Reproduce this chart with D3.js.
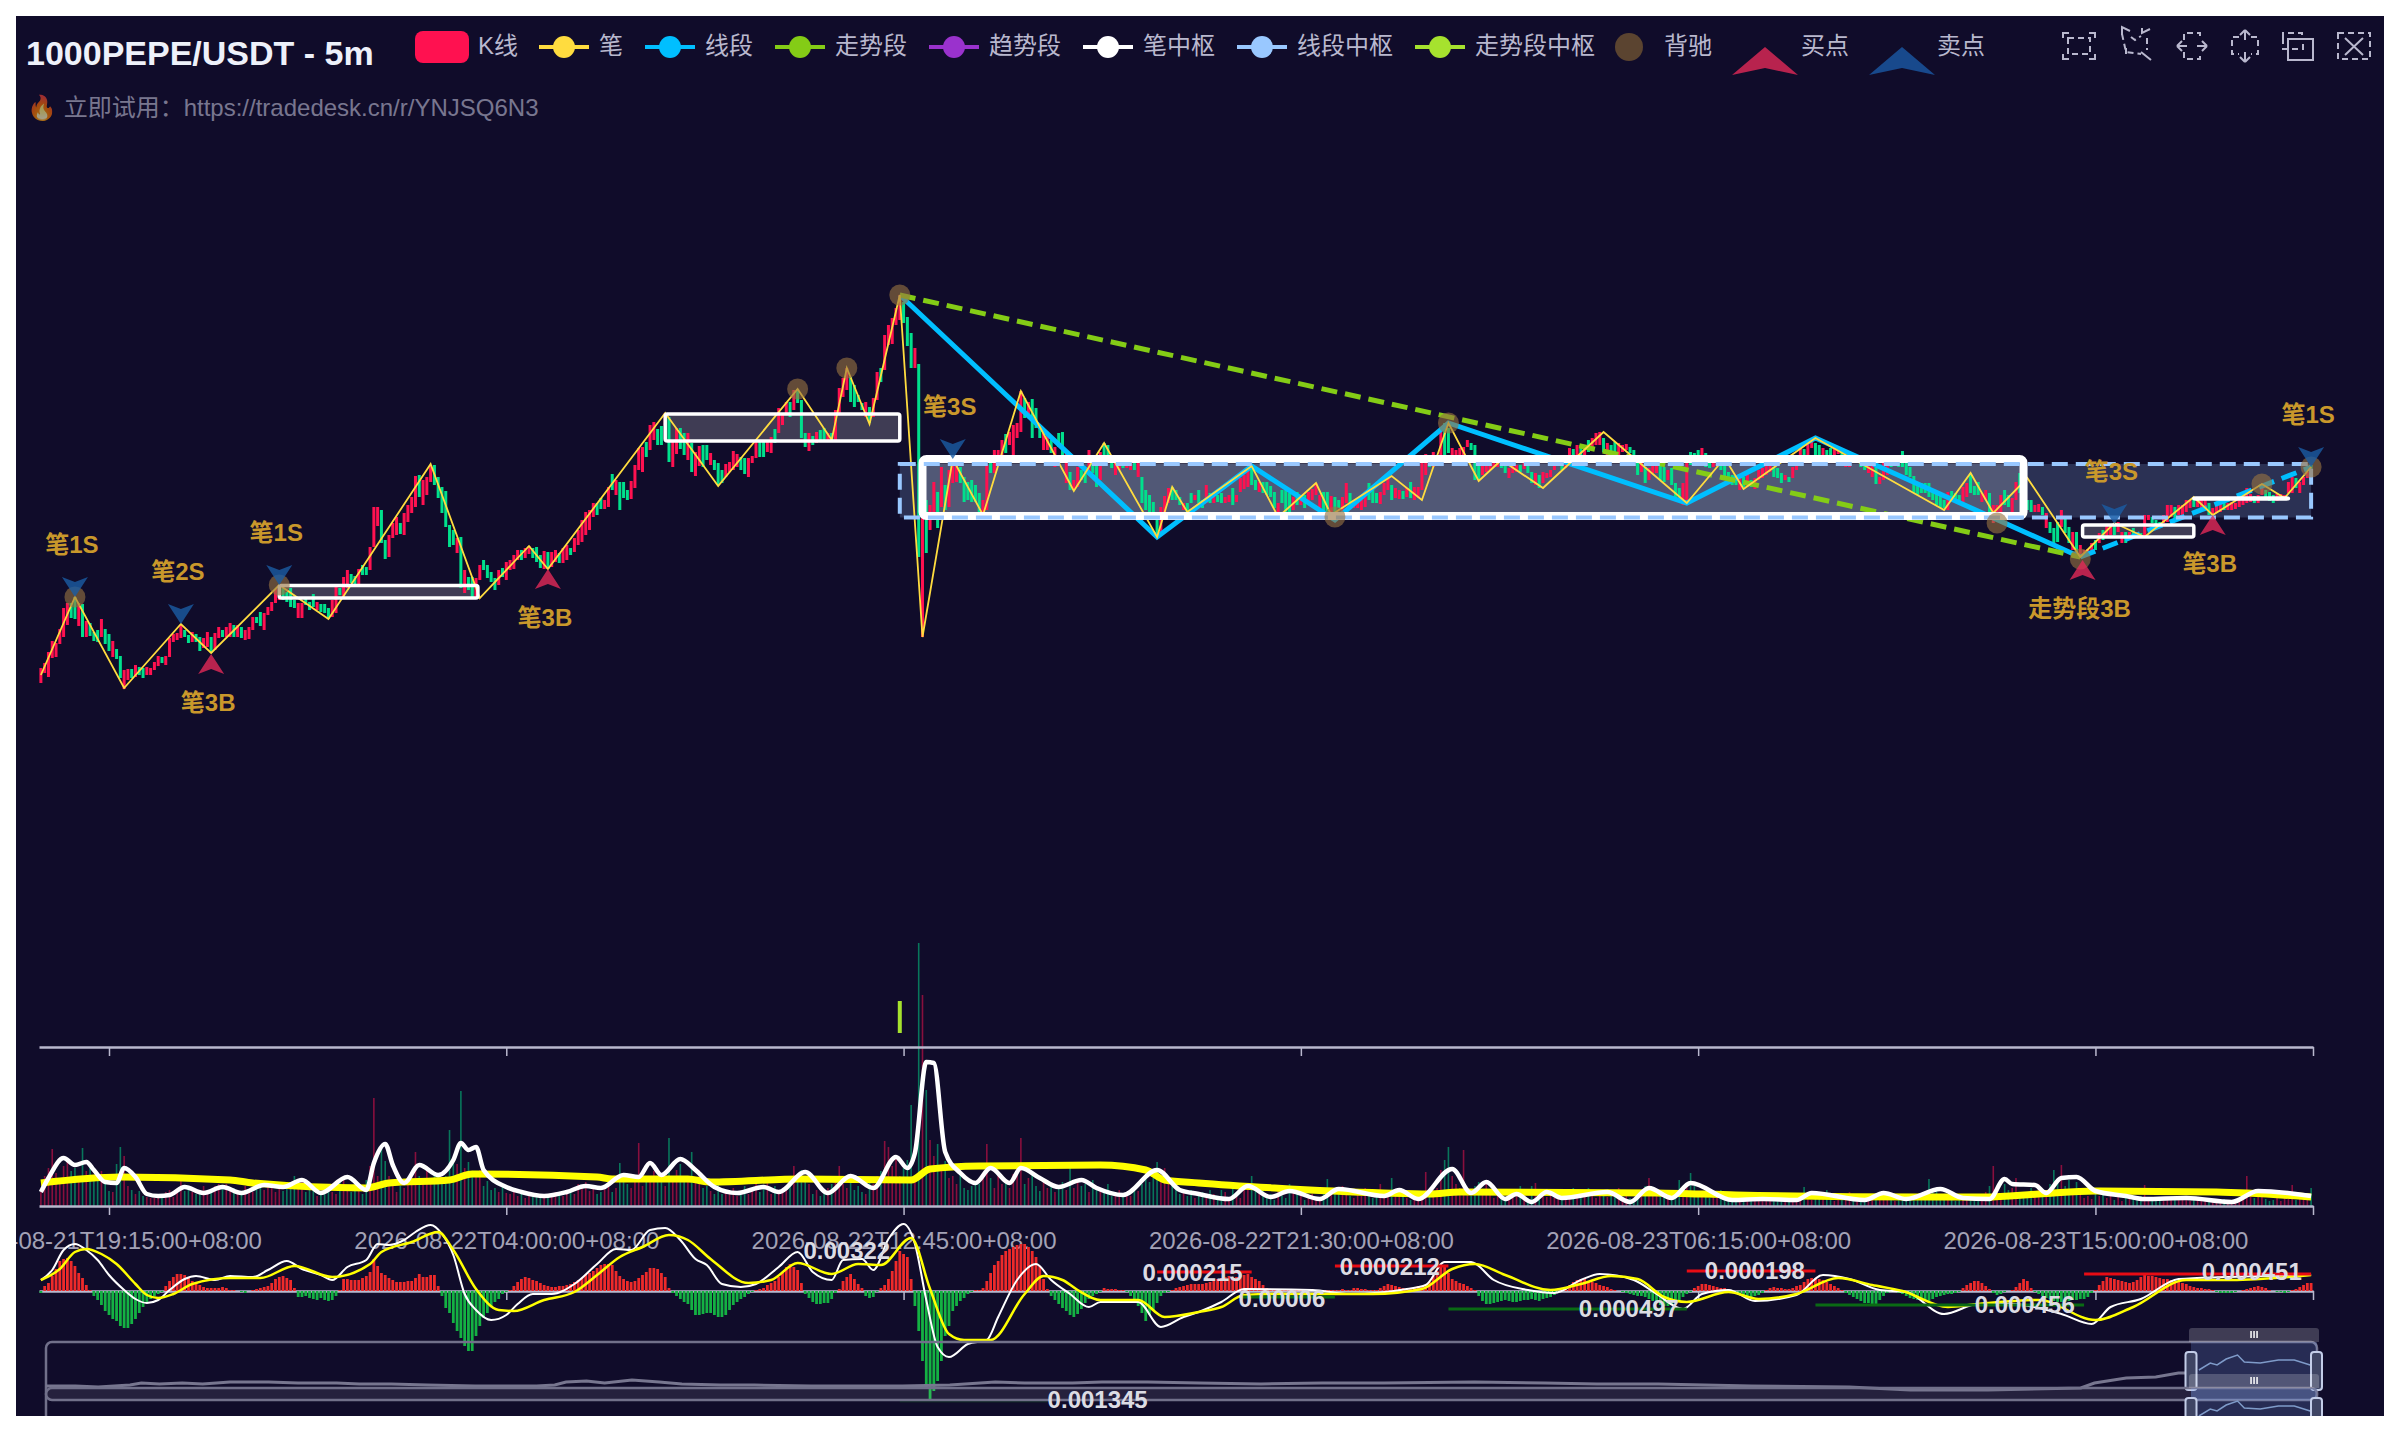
<!DOCTYPE html>
<html>
<head>
<meta charset="utf-8">
<style>
  html, body { margin: 0; padding: 0; background: #fff; }
  svg { position: absolute; left: 16px; top: 16px; display: block; }
  text { font-family: "Liberation Sans", "Noto Sans CJK SC", sans-serif; }
</style>
</head>
<body>
<svg id="chart" width="2368" height="1400" viewBox="16 16 2368 1400"></svg>
<script src="https://cdn.jsdelivr.net/npm/d3@7"></script>
<script>
/***** Data (prices in 1e-5 USDT, bars are 5 minutes apart) *****/
// [open, close] of every bar
var candles = [
[317,332],[327,337],[323,348],[342,359],[343,357],[356,371],[363,392],[375,397],[397,382],[403,381],
[374,397],[396,363],[363,379],[377,364],[368,359],[370,358],[363,381],[371,356],[366,349],[343,359],
[351,341],[344,322],[311,330],[320,331],[331,322],[323,335],[333,325],[332,322],[325,333],[325,332],
[330,338],[334,344],[343,337],[335,344],[343,362],[358,366],[360,367],[362,375],[370,363],[365,357],
[358,368],[366,358],[363,349],[352,362],[353,368],[363,347],[350,367],[362,373],[370,363],[363,373],
[363,377],[375,363],[363,375],[373,362],[360,370],[361,373],[370,383],[383,377],[388,374],[370,387],
[385,393],[389,398],[397,411],[400,415],[412,400],[408,398],[412,393],[400,392],[382,397],[382,397],
[402,395],[398,390],[406,393],[390,398],[396,388],[396,387],[392,381],[383,400],[387,415],[412,405],
[403,423],[412,430],[426,417],[424,414],[416,431],[435,425],[433,425],[430,453],[453,493],[474,493],
[490,457],[460,441],[443,465],[462,477],[465,483],[477,466],[465,487],[478,495],[487,503],[493,524],
[525,503],[495,520],[505,523],[518,535],[535,515],[523,502],[513,487],[509,473],[475,453],[470,455],
[447,462],[463,412],[407,430],[423,410],[423,402],[402,422],[420,435],[440,430],[435,422],[428,418],
[422,410],[415,430],[432,423],[420,438],[430,440],[431,445],[440,450],[450,440],[442,452],[446,454],
[452,442],[453,438],[445,432],[431,449],[448,431],[433,448],[438,450],[447,437],[437,452],[440,455],
[452,445],[448,462],[455,470],[458,480],[465,488],[470,490],[483,497],[497,485],[502,491],[491,500],
[493,513],[526,510],[505,520],[518,490],[518,502],[510,500],[501,519],[512,535],[530,552],[528,553],
[558,543],[550,575],[560,578],[571,555],[574,555],[575,587],[583,538],[533,560],[546,572],[572,551],
[567,545],[540,567],[557,528],[524,548],[534,554],[555,533],[555,540],[535,547],[540,530],[537,515],
[530,517],[523,536],[528,538],[530,549],[533,546],[543,530],[542,526],[523,542],[537,544],[542,560],
[558,543],[558,543],[548,558],[547,563],[571,557],[567,592],[575,587],[586,598],[598,583],[590,610],
[611,597],[600,562],[567,553],[549,567],[564,555],[557,568],[570,558],[572,560],[560,567],[567,558],
[560,590],[587,612],[603,622],[610,632],[623,598],[615,593],[605,598],[597,590],[583,598],[593,577],
[583,602],[600,628],[632,618],[630,665],[655,675],[656,682],[675,692],[680,705],[698,677],[683,654],
[667,632],[632,652],[636,443],[363,503],[500,447],[470,495],[482,518],[508,472],[493,533],[515,490],
[493,530],[517,541],[518,537],[533,517],[523,498],[518,500],[520,498],[515,498],[507,486],[487,500],
[490,535],[542,527],[527,550],[535,550],[542,560],[566,547],[555,568],[543,575],[562,577],[568,609],
[602,582],[583,598],[601,562],[592,572],[573,562],[550,568],[550,566],[560,547],[533,553],[567,553],
[568,542],[517,550],[528,510],[510,520],[513,533],[530,520],[533,517],[527,550],[545,527],[545,513],
[520,548],[557,540],[555,540],[543,532],[525,538],[530,540],[543,532],[532,543],[530,541],[541,530],
[523,542],[523,497],[510,490],[505,488],[498,480],[487,463],[467,493],[483,504],[497,512],[513,500],
[510,500],[503,495],[490,497],[497,488],[507,497],[500,505],[510,497],[500,492],[497,515],[507,497],
[497,505],[505,498],[507,497],[497,503],[498,505],[512,495],[498,505],[508,522],[511,525],[513,533],
[535,515],[520,510],[508,518],[518,507],[518,505],[514,503],[508,492],[482,497],[510,497],[510,487],
[507,488],[490,503],[508,495],[495,505],[505,492],[498,508],[500,511],[505,517],[492,505],[508,487],
[508,487],[488,504],[503,482],[500,492],[488,503],[497,517],[507,492],[492,499],[492,499],[490,500],
[493,505],[517,500],[510,497],[507,497],[496,508],[505,517],[510,524],[515,500],[502,512],[501,510],
[509,501],[503,512],[518,502],[500,513],[502,513],[510,541],[525,546],[543,533],[533,548],[535,545],
[542,573],[577,539],[572,547],[537,552],[542,550],[542,552],[542,553],[553,560],[557,550],[555,520],
[537,520],[525,537],[528,538],[530,542],[533,543],[533,540],[542,532],[535,527],[522,532],[527,537],
[528,535],[535,528],[531,538],[535,527],[528,517],[515,527],[525,512],[517,528],[522,527],[523,530],
[530,537],[535,543],[540,530],[532,541],[540,552],[551,542],[545,555],[555,545],[545,554],[560,548],
[552,562],[555,567],[555,568],[562,548],[545,557],[555,548],[558,547],[545,557],[548,555],[550,556],
[553,547],[550,538],[545,525],[528,537],[533,517],[520,532],[527,535],[527,543],[537,520],[533,518],
[520,530],[532,515],[517,500],[512,498],[495,517],[500,540],[548,535],[547,535],[550,537],[537,552],
[547,533],[542,532],[533,542],[535,542],[541,530],[537,523],[528,518],[525,515],[523,515],[510,522],
[523,513],[513,526],[520,513],[511,522],[520,530],[522,532],[525,535],[528,535],[533,523],[532,522],
[527,517],[520,525],[523,518],[522,533],[530,540],[538,552],[551,545],[545,557],[552,562],[557,545],
[555,543],[542,552],[550,545],[552,543],[545,555],[546,553],[552,535],[533,543],[533,543],[547,537],
[537,544],[543,533],[543,530],[527,537],[523,537],[533,516],[516,523],[520,538],[525,540],[542,533],
[535,545],[540,533],[549,533],[537,525],[533,523],[524,507],[515,505],[517,507],[517,507],[517,503],
[510,500],[507,495],[507,492],[500,492],[490,508],[509,500],[507,498],[505,498],[498,513],[503,517],
[527,507],[514,505],[518,505],[498,507],[500,510],[507,487],[477,495],[487,495],[488,505],[510,495],
[505,493],[485,502],[500,518],[527,507],[520,495],[500,490],[500,488],[488,495],[488,496],[493,485],
[472,487],[478,467],[472,457],[478,458],[473,490],[483,467],[473,457],[450,468],[468,447],[443,455],
[443,450],[444,451],[447,457],[460,450],[457,467],[470,460],[463,475],[465,475],[475,465],[468,478],
[457,468],[468,457],[460,468],[472,462],[467,462],[467,463],[463,485],[480,485],[483,477],[480,473],
[478,473],[477,485],[478,495],[483,495],[493,482],[485,495],[483,495],[488,500],[492,500],[503,493],
[493,500],[492,500],[490,500],[497,485],[485,492],[487,495],[488,497],[497,490],[490,497],[490,498],
[491,497],[493,500],[495,505],[497,512],[498,506],[504,497],[497,505],[505,513],[510,502],[508,499],
[505,497],[499,506],[500,506],[501,505],[507,518],[507,523],[522,512],[507,518],[515,523],[522,528],
[535,525]
];

var penIndex = [0,9,22,37,45,63,76,103,116,129,134,165,179,200,209,213,219,227,233,241,249,259,273,281,295,299,303,320,327,337,341,357,365,372,380,386,397,413,435,445,450,469,503,510,516,525,539,548,556,569,574,587,593,600];
var penPrice = [325,403,312,376,347,415,381,536,402,454,431,587,514,611,560,632,576,705,363,541,485,609,509,557,463,513,488,534,483,517,485,524,500,577,519,540,512,568,497,542,511,562,490,527,487,522,443,477,463,503,485,516,502,533];

var segmentIndex = [227,295,320,342,372,435,469,539];
var segmentPrice = [705,463,534,480,577,497,562,443];
var pendingSegmentIndex = [539,600];
var pendingSegmentPrice = [443,533];
var trendIndex = [227,539];
var trendPrice = [705,443];

// [start bar, end bar, low price, high price]
var penZones = [[63,115.5,402,414.5],[165,227,559,586],[569,594,501,502],[539.6,569,463,475]];
var wideZone = [233,524,484,541];
var segmentZone = [227,600,482.5,536];

var divergeIndex = [9,63,200,213,227,342,372,517,539,587,600];
var divergePrice = [403,415,611,632,705,483,577,477,441,516,533];

var sellIndex = [9,37,63,241,548,600];
var sellPrice = [403,376,415,541,476,533];
var sellLabels = ["笔1S","笔2S","笔1S","笔3S","笔3S","笔1S"];
var buyIndex = [45,134,539.6,574];
var buyPrice = [346,431,440,485];
var buyLabels = ["笔3B","笔3B","走势段3B","笔3B"];

// volume of every bar, in thousands
var volumes = [
14,30,38,57,33,25,40,45,35,38,
30,58,35,42,25,30,35,28,15,14,
42,59,50,20,16,12,15,10,9,8,
8,12,10,14,16,9,14,25,15,18,
14,12,16,20,14,15,20,22,18,22,
15,18,14,12,20,16,14,18,22,16,
24,18,14,20,15,22,18,30,20,24,
14,20,18,10,12,14,22,14,12,24,
30,18,14,20,16,12,26,40,108,30,
60,45,30,22,14,20,18,24,30,54,
30,28,40,26,34,30,22,30,76,46,
42,115,38,44,30,34,36,20,25,16,
18,14,22,13,12,16,10,14,8,12,
9,10,8,12,10,9,14,12,10,15,
14,12,22,18,24,15,20,12,14,18,
22,14,18,43,26,22,18,28,63,20,
26,30,35,24,32,20,68,28,36,42,
30,24,54,28,36,18,20,15,12,22,
12,16,13,18,10,14,20,12,16,22,
14,18,24,12,20,16,14,18,22,40,
30,36,28,22,12,16,10,14,18,22,
26,40,22,18,30,16,20,14,12,25,
22,30,35,65,59,40,50,30,38,46,
101,30,263,211,116,66,50,62,40,45,
28,30,22,32,18,16,20,24,22,30,
62,28,18,30,22,26,18,32,40,68,
22,28,34,20,15,26,18,22,14,20,
24,16,39,18,25,20,22,14,26,16,
18,14,22,10,12,16,9,12,10,18,
15,22,30,24,28,44,30,38,26,20,
18,12,14,10,16,8,12,14,10,16,
12,9,16,14,8,20,10,8,16,18,
30,22,14,16,8,12,6,18,10,8,
22,14,18,10,6,8,12,9,6,14,
27,18,12,16,20,14,10,8,16,10,
18,12,8,15,22,10,14,28,12,18,
10,8,6,14,8,6,34,12,16,18,
36,46,59,30,22,18,56,14,10,20,
24,16,26,12,8,14,10,7,12,16,
10,20,14,8,20,23,6,12,9,16,
8,14,9,7,10,18,12,8,14,18,
12,8,14,16,9,10,12,18,8,10,
8,6,12,15,20,28,16,10,14,9,
8,12,10,26,16,22,33,20,14,10,
12,8,14,10,16,9,7,8,5,8,
6,9,6,8,10,7,5,9,6,8,
7,6,5,8,6,9,19,8,6,12,
7,10,16,7,5,8,11,6,14,8,
7,6,5,8,6,9,12,7,10,6,
5,8,6,7,10,6,11,8,9,27,
14,18,12,7,8,6,5,9,6,8,
10,12,8,6,14,20,40,18,12,22,
16,18,28,14,12,10,18,14,22,16,
12,22,36,28,41,20,26,16,24,12,
8,10,7,12,10,16,8,12,6,9,
5,8,12,7,8,10,21,9,6,8,
7,5,9,6,10,8,6,8,5,7,
6,9,5,8,7,6,5,7,6,4,
6,5,9,30,12,8,14,10,7,5,
6,8,5,10,7,21,6,9,7,12,
18
];

var volFastIndex = [0,2,6,9,12,14,17,20,22,25,28,31,34,38,43,48,53,59,64,69,74,81,86,88,91,93,96,100,105,109,111,113,115,117,123,127,133,139,144,148,154,158,161,164,169,173,178,184,191,195,202,208,214,220,226,229,231,234,236,239,243,247,251,256,259,264,269,275,279,286,295,301,306,314,319,325,330,338,343,355,359,364,373,378,382,387,390,394,398,402,414,420,425,431,436,447,455,464,468,482,487,493,502,508,515,519,521,527,530,534,538,543,551,556,567,579,586,600];
var volFastValue = [14,28,48,41,44,36,24,23,38,29,12,10,11,19,13,19,13,21,19,26,13,29,16,43,62,41,23,41,31,46,63,56,59,36,19,14,10,14,20,18,31,29,43,31,47,36,19,13,19,14,34,13,30,18,49,38,53,144,143,54,33,23,38,23,38,28,19,26,18,11,36,16,12,7,20,9,15,7,17,10,16,7,37,13,24,7,12,4,14,8,14,4,18,8,23,6,7,6,13,6,13,7,17,8,7,27,22,21,13,28,29,15,10,7,8,4,15,10];
var volSlowIndex = [0,21,50,56,86,92,108,114,147,151,171,177,201,230,235,248,280,292,297,306,326,355,367,375,427,448,498,514,528,543,575,600];
var volSlowValue = [23,29,26,23,18,23,26,32,29,27,27,24,27,26,37,40,41,36,26,23,18,13,12,14,13,11,9,9,12,15,14,9];

// MACD histogram of every bar, 108 = 0.001345
var macdHist = [
-2,5,8,15,22,30,32,33,30,25,
18,13,6,1,-5,-9,-14,-20,-24,-28,
-30,-35,-37,-37,-33,-28,-22,-16,-12,-8,
-5,-3,-1,5,10,14,17,17,16,14,
10,8,6,4,3,3,3,3,4,3,
1,1,0,-1,-2,0,1,2,3,4,
5,8,12,14,15,13,11,3,-6,-6,
-5,-7,-8,-9,-7,-9,-10,-9,-5,1,
12,12,11,11,11,13,15,19,32,25,
18,16,13,11,9,9,9,10,10,13,
17,14,14,16,16,5,-5,-17,-22,-32,
-40,-47,-55,-60,-60,-45,-35,-27,-22,-15,
-11,-8,-3,-1,1,5,9,12,14,13,
11,10,8,6,5,4,4,5,5,6,
7,9,11,13,16,18,20,23,26,27,
27,26,20,15,12,10,9,10,13,16,
19,23,23,22,18,14,3,-2,-5,-8,
-11,-13,-19,-24,-24,-23,-22,-22,-24,-26,
-26,-24,-19,-14,-11,-8,-6,-3,-1,1,
2,3,6,8,10,14,19,24,27,24,
21,8,-3,-7,-11,-13,-13,-12,-12,-8,
-2,2,10,14,17,12,7,3,-5,-7,
-6,-1,3,6,12,20,30,40,37,34,
12,-15,-40,-70,-95,-108,-100,-90,-70,-45,
-35,-20,-15,-10,-7,-3,-1,1,1,3,
10,18,26,30,36,40,42,44,46,47,
47,44,40,34,25,12,2,-5,-9,-13,
-17,-20,-24,-26,-23,-18,-12,-8,-5,-3,
-1,3,2,2,2,1,1,-1,-5,-10,
-15,-22,-30,-24,-20,-12,-5,-2,-1,1,
3,4,5,6,7,7,7,7,8,9,
10,12,13,14,15,13,14,15,16,17,
14,12,10,6,3,2,1,1,2,1,
2,2,1,1,1,2,2,1,1,1,
1,1,1,1,2,1,1,3,3,2,
2,1,1,1,3,5,7,6,5,4,
3,2,3,4,5,5,6,9,15,20,
25,25,18,12,10,8,7,5,3,1,
-5,-10,-13,-13,-12,-11,-10,-9,-10,-11,
-11,-10,-9,-9,-8,-9,-10,-8,-7,-6,
-4,-2,1,3,6,9,11,12,12,10,
9,8,6,5,4,2,1,0,-1,-2,
-3,-4,-5,-5,-6,-8,-10,-12,-14,-15,
-15,-14,-12,-10,-6,-3,-1,3,5,7,
7,6,5,4,3,3,2,1,-2,-4,
-5,-6,-6,-5,-4,-2,1,3,4,3,
3,2,2,3,5,6,9,12,13,13,
12,11,9,7,5,3,1,-2,-4,-6,
-8,-10,-12,-12,-13,-13,-9,-5,-2,-1,
0,-2,-3,-5,-7,-8,-9,-10,-10,-10,
-8,-6,-5,-4,-3,-3,-2,-1,3,6,
8,10,10,8,5,2,-2,-4,-3,-1,
0,1,4,8,12,10,3,-1,-3,-5,
-7,-8,-10,-11,-11,-11,-10,-9,-9,-8,
-8,-6,-2,1,6,10,14,13,12,11,
10,9,8,9,11,14,16,15,15,14,
13,12,12,11,10,9,8,7,5,4,
3,3,2,2,1,-1,-2,-2,-2,-2,
-1,0,1,2,3,4,5,4,3,1,
0,-1,-1,-2,-1,1,2,4,6,8,
8
];

var difIndex = [0,3,6,9,12,15,18,22,25,28,31,34,38,41,46,50,56,60,65,69,74,77,81,86,89,92,96,99,103,106,109,112,115,119,123,126,130,135,141,147,152,156,161,165,169,173,176,180,185,189,195,200,204,209,212,217,220,224,228,231,234,237,240,245,250,253,258,263,267,272,277,280,290,296,302,306,312,318,336,346,361,366,371,378,384,393,400,407,412,421,427,434,439,446,453,464,471,478,486,493,503,512,520,534,542,547,555,565,577,600];
var difValue = [11,21,41,47,41,31,16,1,-8,-12,-9,1,12,15,11,15,14,21,30,22,16,11,24,31,47,46,51,59,66,57,36,-3,-19,-29,-24,-13,-3,-3,7,27,42,41,61,63,51,32,26,7,4,7,24,39,19,11,31,32,21,52,67,47,-9,-56,-66,-53,-49,-26,11,27,11,-3,-16,-11,-11,-36,-26,-21,-11,2,1,-3,2,6,29,29,11,1,-2,11,17,11,-3,-18,-3,1,-10,-4,16,12,1,-1,-23,-13,-13,-23,-33,-16,-8,12,14,16];
var deaIndex = [0,5,9,12,16,20,25,28,31,35,40,50,58,67,77,87,90,98,105,109,115,121,125,133,141,147,153,159,166,171,177,187,193,200,209,216,222,230,235,240,244,251,260,265,270,274,280,290,297,306,312,318,326,336,352,365,373,379,387,399,407,415,422,429,435,446,454,464,475,484,492,504,512,528,543,553,567,579,600];
var deaValue = [11,22,39,42,37,27,7,-4,-7,-3,7,13,13,25,14,27,39,49,59,41,2,-19,-20,-9,-1,16,34,44,56,51,32,8,11,28,17,27,26,53,2,-43,-49,-49,-3,15,11,1,-9,-9,-26,-21,-16,-4,-3,-3,-3,2,22,27,16,1,7,15,12,-6,-11,-1,-8,-3,13,6,0,-16,-13,-9,-29,-16,11,11,16];

// peak and trough labels of the MACD pane
var macdLabels = ["0.00322","0.000215","0.00006","0.000212","0.000497","0.000198","0.000456","0.000451","0.001345"];
var macdLabelIndex = [213,304.4,328,356.5,419.7,453,524.3,584.3,279.3];
var macdLabelValue = [41,19,-7,25,-17,21,-13,20,-108];
// [start bar, end bar, value]
var macdHighLines = [[295,320,19],[342,372,25],[435,469,20],[540,600,17]];
var macdLowLines = [[227,266,-110],[317,342,-6],[372,435,-18],[469,540,-14]];

var tickIndex = [18,123,228,333,438,543,600.5];
var tickLabels = ["2026-08-21T19:15:00+08:00","2026-08-22T04:00:00+08:00","2026-08-22T12:45:00+08:00","2026-08-22T21:30:00+08:00","2026-08-23T06:15:00+08:00","2026-08-23T15:00:00+08:00",""];

// data zoom previews, whole history on 0-1000
var overviewT = [0,13,23,37,42,50,60,69,81,98,111,128,138,152,168,189,216,224,229,238,246,258,270,280,297,312,337,377,398,418,431,452,465,485,508,535,562,589,629,660,683,710,751,794,821,855,896,902,916,929,939,944];
var overviewV = [14,14,13,15,17,16,17,16,18,18,17,17,16,16,15,14,14,15,18,19,17,20,18,16,15,15,14,14,15,18,17,17,18,18,17,16,17,17,18,17,16,16,14,13,10,10,12,17,22,23,27,27];
var windowT = [948,953,956,960,965,968,975,983,990,997];
var windowV = [30,37,35,41,45,38,37,40,40,35];

var legendLines = [
    {name: "笔", color: "#ffdc3f"}, {name: "线段", color: "#00bfff"}, {name: "走势段", color: "#84cc16"},
    {name: "趋势段", color: "#9a32cd"}, {name: "笔中枢", color: "#ffffff"}, {name: "线段中枢", color: "#99c8ff"},
    {name: "走势段中枢", color: "#a6e22e"}
];

/***** Configuration *****/
var upColor = "#ff1150", downColor = "#00e08c", textColor = "#b9b8ce";
var svg = d3.select("#chart");

svg.append("rect").attr("x", 16).attr("y", 16).attr("width", 2368).attr("height", 1400).attr("fill", "#100c2a");

var x = d3.scaleLinear().domain([-0.5, 600.5]).range([39, 2313]);
var yPrice = d3.scaleLinear().domain([300, 710]).range([700, 290]);
var yVolume = d3.scaleLinear().domain([0, 263]).range([1206, 943]);
var yMacd = d3.scaleLinear().domain([-108, 48]).range([1399, 1243]);
var xOverview = d3.scaleLinear().domain([0, 1000]).range([46, 2317]);
var yOverview = d3.scaleLinear().domain([0, 58]).range([1400, 1342]);

function lineOf(xs, ys, xScale, yScale, curve) {
    return d3.line().x(function(d, i) { return xScale(xs[i]); }).y(function(d, i) { return yScale(ys[i]); }).curve(curve || d3.curveLinear)(xs);
}

function arrowPath(w, h) {
    var notch = h * 0.75;
    return "M0,0L" + w + "," + h + "L0," + notch + "L" + (-w) + "," + h + "Z";
}

function zoneRect(g, zone) {
    return g.append("rect")
        .attr("x", x(zone[0]))
        .attr("y", yPrice(zone[3]))
        .attr("width", x(zone[1]) - x(zone[0]))
        .attr("height", yPrice(zone[2]) - yPrice(zone[3]));
}

/***** Title and legend *****/
function drawHeader(g) {
    g.append("text").attr("x", 26).attr("y", 65).attr("font-size", 34).attr("font-weight", "bold").attr("fill", "#eef1fa").text("1000PEPE/USDT - 5m");
    g.append("text").attr("x", 27).attr("y", 116).attr("font-size", 24).attr("fill", "#b9b8ce").attr("opacity", 0.62).text("🔥 立即试用：https://tradedesk.cn/r/YNJSQ6N3");

    g.append("rect").attr("x", 415).attr("y", 31).attr("width", 54).attr("height", 32).attr("rx", 8).attr("fill", upColor);
    legendText(g, 478, "K线");

    var lineX = [539, 645, 775, 929, 1083, 1237, 1415];
    legendLines.forEach(function(d, i) {
        g.append("line").attr("x1", lineX[i]).attr("x2", lineX[i] + 50).attr("y1", 47).attr("y2", 47).attr("stroke", d.color).attr("stroke-width", 4);
        g.append("circle").attr("cx", lineX[i] + 25).attr("cy", 47).attr("r", 11).attr("fill", d.color);
        legendText(g, lineX[i] + 60, d.name);
    });

    g.append("circle").attr("cx", 1629).attr("cy", 47).attr("r", 14).attr("fill", "#5b4430");
    legendText(g, 1664, "背驰");
    g.append("path").attr("d", arrowPath(33, 28)).attr("transform", "translate(1765,47)").attr("fill", "#b8234e");
    legendText(g, 1801, "买点");
    g.append("path").attr("d", arrowPath(33, 28)).attr("transform", "translate(1902,47)").attr("fill", "#18498c");
    legendText(g, 1937, "卖点");
}

function legendText(g, px, label) {
    g.append("text").attr("x", px).attr("y", 54).attr("font-size", 24).attr("fill", textColor).text(label);
}

function drawToolbox(g) {
    var icons = [
        {at: 2079, solid: "M-16,-8V-13H-10M10,-13H16V-8M16,8V13H10M-10,13H-16V8", dashed: "M-11,-8H11V8H-11Z"},
        {at: 2135, solid: "M-9,8V2M-5,-15L-13,-19V-11M15,-17L7,-13V-18M6,6L16,14", dashed: "M-13,-12L-9,6L6,8M-4,-9L0,-6L6,-10M12,-8L12,4"},
        {at: 2192, solid: "M-15,0H-5M-15,0L-10,-5M-15,0L-10,5M15,0H5M15,0L10,-5M15,0L10,5", dashed: "M-8,-6V-13H8V-6M-8,6V13H8V6"},
        {at: 2245, solid: "M0,-16V-6M0,-16L-5,-11M0,-16L5,-11M0,16V6M0,16L-5,11M0,16L5,11", dashed: "M-6,-9H-13V8H-6M6,-9H13V8H6"},
        {at: 2298, solid: "M-10,-7H15V14H-10Z", dashed: "M-15,-8V-13H4V-8M-15,-8V3H5V-4"},
        {at: 2354, solid: "M-9,-8L9,9M9,-8L-9,9", dashed: "M-16,-13H16V13H-16Z"}
    ];
    icons.forEach(function(d) {
        var icon = g.append("g").attr("transform", "translate(" + d.at + ",46)").attr("fill", "none").attr("stroke", textColor).attr("stroke-width", 2);
        icon.append("path").attr("d", d.solid);
        icon.append("path").attr("d", d.dashed).attr("stroke-dasharray", "6 4");
    });
}

/***** Main pane *****/
function drawMain(g) {
    penZones.forEach(function(zone) {
        zoneRect(g, zone).attr("fill", "rgba(255,255,255,0.2)");
    });
    zoneRect(g, wideZone).attr("fill", "rgba(255,255,255,0.2)");
    zoneRect(g, segmentZone).attr("fill", "rgba(153,200,255,0.2)");

    g.selectAll(".candle")
        .data(candles)
        .enter()
        .append("rect")
        .attr("class", "candle")
        .attr("x", function(d, i) { return x(i) - 1.5; })
        .attr("y", function(d) { return yPrice(Math.max(d[0], d[1])); })
        .attr("width", 3)
        .attr("height", function(d) { return Math.abs(yPrice(d[0]) - yPrice(d[1])); })
        .attr("fill", function(d) { return d[1] >= d[0] ? upColor : downColor; });

    var plain = g.append("g").attr("fill", "none");
    plain.append("path").attr("d", lineOf(segmentIndex, segmentPrice, x, yPrice)).attr("stroke", "#00bfff").attr("stroke-width", 5);
    plain.append("path").attr("d", lineOf(pendingSegmentIndex, pendingSegmentPrice, x, yPrice)).attr("stroke", "#00bfff").attr("stroke-width", 5).attr("stroke-dasharray", "16 8");
    plain.append("path").attr("d", lineOf(trendIndex, trendPrice, x, yPrice)).attr("stroke", "#84cc16").attr("stroke-width", 5).attr("stroke-dasharray", "16 8");
    plain.append("path").attr("d", lineOf(penIndex, penPrice, x, yPrice)).attr("stroke", "#ffdc3f").attr("stroke-width", 1.8);

    penZones.forEach(function(zone) {
        zoneRect(g, zone).attr("fill", "none").attr("stroke", "#ffffff").attr("stroke-width", 3.5).attr("rx", 2);
    });
    zoneRect(g, wideZone).attr("fill", "none").attr("stroke", "#ffffff").attr("stroke-width", 8).attr("rx", 4);
    zoneRect(g, segmentZone).attr("fill", "none").attr("stroke", "#99c8ff").attr("stroke-width", 4).attr("stroke-dasharray", "16 8");

    divergeIndex.forEach(function(d, i) {
        g.append("circle").attr("cx", x(d)).attr("cy", yPrice(divergePrice[i])).attr("r", 10.5).attr("fill", "rgba(150,115,65,0.62)");
    });

    sellIndex.forEach(function(d, i) {
        g.append("path").attr("d", arrowPath(13, 20)).attr("transform", "translate(" + x(d) + "," + yPrice(sellPrice[i]) + ") scale(1,-1)").attr("fill", "#1a5ca4").attr("opacity", 0.8);
        signalText(g, x(d) - 3, yPrice(sellPrice[i]) - 52, sellLabels[i]);
    });
    buyIndex.forEach(function(d, i) {
        g.append("path").attr("d", arrowPath(13, 20)).attr("transform", "translate(" + x(d) + "," + yPrice(buyPrice[i]) + ")").attr("fill", "#e22957").attr("opacity", 0.8);
        signalText(g, x(d) - 3, yPrice(buyPrice[i]) + 49, buyLabels[i]);
    });
}

function signalText(g, px, py, label) {
    g.append("text").attr("x", px).attr("y", py + 8).attr("text-anchor", "middle").attr("font-size", 24).attr("font-weight", "bold").attr("fill", "#c9982b").text(label);
}

/***** Volume pane *****/
function createAxis(g, py, labelled) {
    var axis = d3.axisBottom(x).tickValues(tickIndex).tickSize(9).tickPadding(17).tickSizeOuter(0)
        .tickFormat(function(d, i) { return labelled ? tickLabels[i] : ""; });
    var node = g.append("g").attr("transform", "translate(0," + py + ")").call(axis);
    node.select(".domain").attr("stroke", textColor).attr("stroke-width", 2.5);
    node.selectAll(".tick line").attr("stroke", textColor).attr("stroke-width", 1.5);
    node.selectAll("text").attr("font-size", 24).attr("fill", "#a3a2b6").attr("font-family", null);
}

function drawVolume(g) {
    // the thin block of the trend centre sits just above the pane
    g.append("rect").attr("x", x(227) - 2).attr("y", 1001).attr("width", 4).attr("height", 32).attr("fill", "#a6e22e");

    g.selectAll(".vol")
        .data(volumes)
        .enter()
        .append("rect")
        .attr("class", "vol")
        .attr("x", function(d, i) { return x(i) - 0.8; })
        .attr("y", function(d) { return yVolume(d); })
        .attr("width", 1.6)
        .attr("height", function(d) { return yVolume(0) - yVolume(d); })
        .attr("fill", function(d, i) { return candles[i][1] >= candles[i][0] ? upColor : downColor; })
        .attr("opacity", 0.5);

    createAxis(g, 1047, false);
    createAxis(g, 1206, true);

    g.append("path").attr("d", lineOf(volSlowIndex, volSlowValue, x, yVolume, d3.curveMonotoneX)).attr("fill", "none").attr("stroke", "#ffff00").attr("stroke-width", 7);
    g.append("path").attr("d", lineOf(volFastIndex, volFastValue, x, yVolume, d3.curveMonotoneX)).attr("fill", "none").attr("stroke", "#ffffff").attr("stroke-width", 4.5);
}

/***** MACD pane *****/
function drawMacd(g) {
    createAxis(g, 1291, false);

    g.selectAll(".hist")
        .data(macdHist)
        .enter()
        .append("rect")
        .attr("class", "hist")
        .attr("x", function(d, i) { return x(i) - 1.4; })
        .attr("y", function(d) { return yMacd(Math.max(d, 0)); })
        .attr("width", 2.8)
        .attr("height", function(d) { return Math.abs(yMacd(d) - yMacd(0)); })
        .attr("fill", function(d) { return d >= 0 ? "#ee2a2a" : "#14b143"; });

    g.append("path").attr("d", lineOf(difIndex, difValue, x, yMacd, d3.curveMonotoneX)).attr("fill", "none").attr("stroke", "#ffffff").attr("stroke-width", 2);
    g.append("path").attr("d", lineOf(deaIndex, deaValue, x, yMacd, d3.curveMonotoneX)).attr("fill", "none").attr("stroke", "#ffff00").attr("stroke-width", 2.5);

    macdHighLines.forEach(function(d) {
        g.append("line").attr("x1", x(d[0])).attr("x2", x(d[1])).attr("y1", yMacd(d[2])).attr("y2", yMacd(d[2])).attr("stroke", "#e80c14").attr("stroke-width", 3);
    });
    macdLowLines.forEach(function(d) {
        // the deepest one is almost lost against the sliders
        g.append("line").attr("x1", x(d[0])).attr("x2", x(d[1])).attr("y1", yMacd(d[2])).attr("y2", yMacd(d[2])).attr("stroke", "#0a6a14").attr("stroke-width", 3).attr("opacity", d[2] < -100 ? 0.25 : 1);
    });
}

function drawMacdLabels(g) {
    macdLabels.forEach(function(d, i) {
        g.append("text").attr("x", x(macdLabelIndex[i])).attr("y", yMacd(macdLabelValue[i]) + 9).attr("text-anchor", "middle")
            .attr("font-size", 24).attr("font-weight", "bold").attr("fill", "#dcdce4").text(d);
    });
}

/***** Data zoom sliders *****/
function drawSlider(g, top) {
    var slider = g.append("g").attr("transform", "translate(0," + (top - 1342) + ")");
    slider.append("rect").attr("x", 46).attr("y", 1342).attr("width", 2271).attr("height", 58).attr("rx", 6).attr("fill", "none").attr("stroke", "#71708a").attr("stroke-width", 2.5);
    slider.append("path").attr("d", lineOf(overviewT, overviewV, xOverview, yOverview)).attr("fill", "none").attr("stroke", "#77768f").attr("stroke-width", 3);
    slider.append("rect").attr("x", 2191).attr("y", 1342).attr("width", 126).attr("height", 58).attr("fill", "rgba(135,175,255,0.2)");
    slider.append("path").attr("d", lineOf(windowT, windowV, xOverview, yOverview)).attr("fill", "none").attr("stroke", "#7f9bc9").attr("stroke-width", 1.5);
    slider.append("path").attr("d", "M2189,1342V1331a3,3 0 0 1 3,-3H2316a3,3 0 0 1 3,3V1342Z").attr("fill", "rgba(255,255,255,0.2)");
    [-3, 0, 3].forEach(function(dx) {
        slider.append("rect").attr("x", 2254 + dx - 0.7).attr("y", 1331).attr("width", 1.5).attr("height", 7).attr("fill", "#ffffff");
    });
    [2191, 2316.5].forEach(function(hx) {
        slider.append("rect").attr("x", hx - 5.5).attr("y", 1352).attr("width", 11).attr("height", 38).attr("rx", 3).attr("fill", "#3f4564").attr("stroke", "#c3cde8").attr("stroke-width", 2);
    });
}

function drawSliders(g) {
    g.append("rect").attr("x", 47).attr("y", 1388).attr("width", 2269).attr("height", 12).attr("rx", 5).attr("fill", "rgba(255,255,255,0.09)");
    drawSlider(g, 1342);
    drawSlider(g, 1388);
}

(function (d3) {
    var g = svg.append("g");
    drawHeader(g);
    drawToolbox(g);
    drawMain(g);
    drawVolume(g);
    drawMacd(g);
    drawSliders(g);
    drawMacdLabels(g);
})(d3);
</script>
</body>
</html>
